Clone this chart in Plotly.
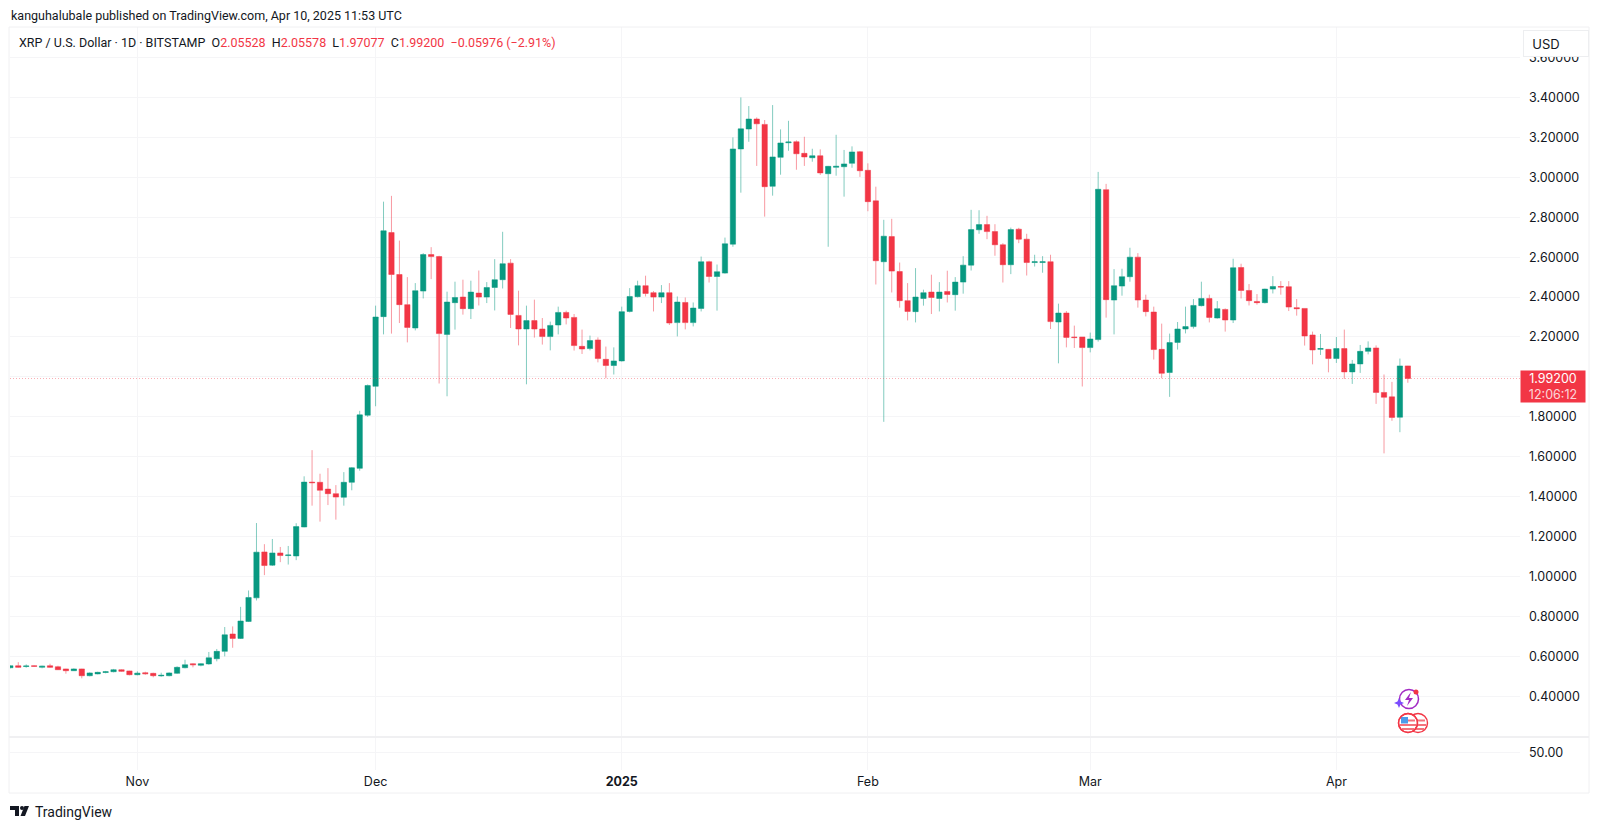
import pandas as pd
import plotly.graph_objects as go

dates = pd.date_range("2024-10-16", periods=177, freq="D").strftime("%Y-%m-%d").tolist()

opens = [.543,.553,.549,.553,.545,.553,.548,.537,.528,.537,.503,.512,.519,.523,.533,.527,.508,.518,.515,.502,
 .503,.515,.543,.563,.555,.562,.588,.625,.712,.69,.775,.893,1.123,1.057,1.118,1.105,1.103,1.248,1.473,1.472,
 1.438,1.415,1.397,1.472,1.542,1.808,1.953,2.302,2.723,2.513,2.362,2.245,2.43,2.613,2.603,2.213,2.372,2.40,2.342,2.42,
 2.40,2.448,2.487,2.57,2.308,2.24,2.282,2.24,2.202,2.26,2.323,2.298,2.153,2.142,2.185,2.088,2.057,2.08,2.328,2.402,
 2.457,2.422,2.40,2.422,2.272,2.373,2.272,2.343,2.577,2.503,2.52,2.665,3.142,3.242,3.292,3.265,2.955,3.10,3.173,3.178,
 3.12,3.098,3.108,3.018,3.05,3.053,3.07,3.128,3.035,2.882,2.577,2.703,2.528,2.382,2.327,2.393,2.425,2.393,2.428,2.412,
 2.475,2.56,2.737,2.763,2.728,2.662,2.562,2.74,2.69,2.573,2.573,2.577,2.275,2.32,2.20,2.20,2.147,2.187,2.938,2.385,
 2.455,2.502,2.60,2.385,2.325,2.138,2.022,2.173,2.24,2.252,2.357,2.393,2.295,2.338,2.285,2.548,2.433,2.378,2.372,2.44,
 2.453,2.452,2.347,2.343,2.21,2.138,2.138,2.092,2.142,2.025,2.065,2.128,2.145,1.922,1.90,1.798,2.05528]

highs = [.555,.571,.560,.555,.553,.563,.553,.538,.54,.538,.52,.523,.527,.537,.535,.528,.525,.523,.518,.518,
 .52,.55,.583,.565,.565,.622,.637,.747,.75,.848,.93,1.268,1.162,1.188,1.148,1.153,1.267,1.502,1.633,1.515,
 1.543,1.458,1.523,1.548,1.83,1.962,2.357,2.878,2.907,2.683,2.5,2.47,2.62,2.65,2.607,2.427,2.477,2.487,2.482,2.533,
 2.475,2.59,2.727,2.59,2.432,2.357,2.387,2.295,2.277,2.352,2.332,2.315,2.237,2.207,2.198,2.152,2.148,2.352,2.445,2.482,
 2.507,2.43,2.46,2.47,2.403,2.398,2.373,2.603,2.582,2.563,2.698,3.2,3.4,3.357,3.30,3.287,3.362,3.24,3.283,3.185,
 3.203,3.143,3.14,3.057,3.213,3.137,3.155,3.132,3.07,2.953,2.787,2.792,2.573,2.47,2.545,2.437,2.512,2.475,2.532,2.50,
 2.605,2.837,2.835,2.807,2.765,2.67,2.748,2.747,2.717,2.612,2.605,2.612,2.367,2.33,2.257,2.20,2.222,3.027,2.967,2.54,
 2.542,2.647,2.62,2.412,2.352,2.267,2.217,2.275,2.352,2.39,2.477,2.412,2.38,2.343,2.592,2.567,2.465,2.415,2.442,2.505,
 2.48,2.48,2.39,2.343,2.227,2.215,2.14,2.20,2.237,2.085,2.16,2.178,2.158,2.012,1.975,2.092,2.05578]

lows = [.54,.543,.543,.548,.540,.543,.532,.513,.527,.490,.50,.51,.515,.52,.523,.505,.505,.508,.495,.498,
 .50,.512,.54,.545,.55,.558,.575,.60,.643,.687,.772,.88,1.007,1.053,1.072,1.06,1.082,1.247,1.355,1.275,
 1.358,1.285,1.355,1.432,1.53,1.80,1.853,2.213,2.217,2.27,2.173,2.233,2.393,2.49,1.967,1.903,2.237,2.312,2.29,2.358,
 2.37,2.333,2.443,2.245,2.158,1.963,2.197,2.162,2.133,2.213,2.263,2.132,2.115,2.133,2.073,1.993,2.012,2.077,2.323,2.398,
 2.403,2.328,2.37,2.26,2.203,2.238,2.253,2.328,2.473,2.332,2.517,2.652,2.923,3.178,3.057,2.803,2.908,3.013,3.133,3.038,
 3.057,3.078,3.012,2.652,3.008,2.903,3.048,3.002,2.83,2.463,1.775,2.423,2.347,2.283,2.273,2.357,2.315,2.328,2.373,2.332,
 2.417,2.533,2.717,2.69,2.607,2.473,2.515,2.67,2.508,2.553,2.522,2.24,2.068,2.148,2.145,1.952,2.123,2.177,2.297,2.213,
 2.407,2.477,2.347,2.303,2.087,1.993,1.90,2.137,2.218,2.242,2.353,2.273,2.292,2.227,2.27,2.393,2.358,2.362,2.368,2.418,
 2.412,2.33,2.307,2.157,2.063,2.11,2.023,2.07,1.99,1.965,2.02,2.113,1.865,1.617,1.78,1.723,1.97077]

closes = [.553,.545,.552,.550,.551,.545,.533,.528,.537,.503,.517,.520,.523,.533,.525,.508,.516,.513,.503,.505,
 .517,.545,.558,.558,.563,.593,.625,.708,.69,.777,.895,1.122,1.055,1.118,1.105,1.108,1.25,1.473,1.47,1.432,
 1.415,1.398,1.472,1.545,1.81,1.957,2.30,2.732,2.513,2.362,2.248,2.432,2.613,2.603,2.217,2.375,2.398,2.342,2.425,2.40,
 2.448,2.487,2.567,2.313,2.24,2.282,2.24,2.202,2.258,2.323,2.295,2.157,2.14,2.182,2.092,2.057,2.08,2.327,2.403,2.457,
 2.418,2.40,2.422,2.27,2.375,2.272,2.345,2.577,2.503,2.527,2.667,3.142,3.243,3.292,3.268,2.953,3.102,3.172,3.177,3.118,
 3.102,3.108,3.022,3.055,3.055,3.067,3.127,3.033,2.878,2.582,2.705,2.53,2.382,2.328,2.40,2.422,2.398,2.425,2.413,2.475,
 2.56,2.738,2.763,2.728,2.662,2.562,2.738,2.69,2.573,2.577,2.577,2.277,2.32,2.198,2.197,2.147,2.19,2.94,2.387,2.457,
 2.502,2.60,2.385,2.327,2.137,2.018,2.172,2.24,2.252,2.358,2.393,2.298,2.342,2.285,2.547,2.433,2.382,2.372,2.44,2.453,
 2.45,2.35,2.342,2.205,2.135,2.142,2.092,2.142,2.025,2.065,2.128,2.145,1.922,1.898,1.797,2.055,1.992]

price_ticks = [0.4,0.6,0.8,1.0,1.2,1.4,1.6,1.8,2.0,2.2,2.4,2.6,2.8,3.0,3.2,3.4,3.6]
# The 2.00000 label sits behind the last-price box in the reference, so only its gridline shows.
price_labels = ["" if v == 2.0 else "%.5f" % v for v in price_ticks]
month_ticks = ["2024-11-01","2024-12-01","2025-01-01","2025-02-01","2025-03-01","2025-04-01"]
month_labels = ["Nov","Dec","<b>2025</b>","Feb","Mar","Apr"]
last_price = 1.992
pane_value = [50]

W, H = 1600, 828
L, R, T, B = 10, 1520, 27, 770
SEP = 737
FONT = "Inter"
TEXT_FONT = "Roboto"
INK = "#131722"
GREEN = "#089981"
RED = "#F23645"
GRID = "#F5F5F7"
BORDER = "#F0F0F2"

def fx(px):
    return (px - L) / (R - L)

def fy(px):
    return (B - px) / (B - T)

fig = go.Figure()
fig.add_trace(go.Candlestick(
    x=dates, open=opens, high=highs, low=lows, close=closes,
    xaxis="x", yaxis="y",
    increasing=dict(line=dict(color="rgba(8,153,129,0.5)", width=1), fillcolor=GREEN),
    decreasing=dict(line=dict(color="rgba(242,54,69,0.5)", width=1), fillcolor=RED),
    whiskerwidth=0, hoverinfo="skip", showlegend=False,
))
fig.add_trace(go.Scatter(x=dates[-1:], y=pane_value, xaxis="x", yaxis="y2", mode="markers",
                         marker=dict(opacity=0, size=1), hoverinfo="skip", showlegend=False))

def rect(x0, y0, x1, y1, **kw):
    return dict(type="rect", xref="paper", yref="paper", x0=fx(x0), x1=fx(x1), y0=fy(y0), y1=fy(y1), **kw)

def circle(cx, cy, r, **kw):
    return dict(type="circle", xref="paper", yref="paper", x0=fx(cx - r), x1=fx(cx + r), y0=fy(cy - r), y1=fy(cy + r), **kw)

def poly(points, **kw):
    d = "M " + " L ".join(f"{fx(a):.5f},{fy(b):.5f}" for a, b in points) + " Z"
    return dict(type="path", xref="paper", yref="paper", path=d, **kw)

def flag(cx, cy):
    r = 9.5
    out = [circle(cx, cy, r, fillcolor="white", line=dict(color=RED, width=1.4))]
    for dy, hw in ((-3.5, 7), (1, 8), (5, 6)):
        out.append(rect(cx - hw, cy + dy, cx + hw, cy + dy + 2, fillcolor="#F4717C", line=dict(width=0)))
    return out

shapes = [
    rect(9, 27, 1589, 793, line=dict(color=BORDER, width=1), fillcolor="rgba(0,0,0,0)"),
    rect(9, SEP - 1, 1589, SEP + 1, line=dict(width=0), fillcolor=BORDER),
    dict(type="line", xref="paper", yref="y", x0=0, x1=1, y0=last_price, y1=last_price,
         line=dict(color="rgba(242,54,69,0.4)", width=1, dash="1px,2px")),
    circle(1409, 699, 9.5, line=dict(color="#A32BC4", width=1.5), fillcolor="white"),
    poly([(1411, 692), (1405, 700), (1409, 700), (1407, 706), (1413, 698), (1409, 698)],
         fillcolor="#A32BC4", line=dict(width=0)),
    poly([(1399, 698), (1400.5, 701.5), (1404, 703), (1400.5, 704.5), (1399, 708), (1397.5, 704.5), (1394, 703), (1397.5, 701.5)],
         fillcolor="#7B4DFF", line=dict(width=0)),
    circle(1416, 692, 2.5, fillcolor=RED, line=dict(width=0)),
]
shapes += flag(1418, 723)
shapes += flag(1408, 723)
shapes += [
    rect(1401, 717, 1408, 723.5, fillcolor="#4C9BEA", line=dict(width=0)),
    circle(1408, 723, 9.5, fillcolor="rgba(0,0,0,0)", line=dict(color=RED, width=1.4)),
]
shapes += [
    poly([(10, 806), (19, 806), (19, 816), (15, 816), (15, 810), (10, 810)], fillcolor=INK, line=dict(width=0)),
    circle(22, 808, 2, fillcolor=INK, line=dict(width=0)),
    poly([(24.5, 806), (29, 806), (25, 816), (20.5, 816)], fillcolor=INK, line=dict(width=0)),
]

def note(text, x, y, size=12.5, color=INK, anchor="left", yanchor="middle", family=TEXT_FONT, **kw):
    return dict(text=text, xref="paper", yref="paper", x=fx(x), y=fy(y), xanchor=anchor, yanchor=yanchor,
                showarrow=False, align=anchor, font=dict(family=family, size=size, color=color), **kw)

def red(t):
    return f'<span style="color:{RED}">{t}</span>'

GAP = "\u00a0\u00a0"
header = ("XRP / U.S. Dollar · 1D · BITSTAMP" + GAP + "O" + red("2.05528") + GAP + "H" + red("2.05578") + GAP + "L"
          + red("1.97077") + GAP + "C" + red("1.99200") + GAP + red("−0.05976 (−2.91%)"))

annotations = [
    note("kanguhalubale published on TradingView.com, Apr 10, 2025 11:53 UTC", 9, 15.5),
    note(header, 17, 42),
    dict(text="\u00a0\u00a0USD", xref="paper", yref="paper", x=fx(1523), y=fy(30), xanchor="left", yanchor="top",
         width=62, height=23, showarrow=False, align="left", bgcolor="white", bordercolor="#EDEEF0",
         borderwidth=1, borderpad=1, font=dict(family=FONT, size=13, color=INK)),
    dict(text=f'{last_price:.5f}<br><span style="color:rgba(255,255,255,0.8)">12:06:12</span>',
         xref="paper", yref="paper", x=fx(1520), y=fy(370), xanchor="left",
         yanchor="top", width=62, height=29, showarrow=False, bgcolor=RED, align="center", borderpad=1,
         font=dict(family=FONT, size=12.5, color="white")),
    note("TradingView", 33, 812, size=14),
]

fig.update_layout(
    width=W, height=H, autosize=False,
    margin=dict(l=L, r=W - R, t=T, b=H - B, pad=0),
    paper_bgcolor="white", plot_bgcolor="white",
    showlegend=False, dragmode=False, hovermode=False,
    boxgap=0.33, boxgroupgap=0,
    font=dict(family=FONT, size=13, color=INK),
    xaxis=dict(type="date", domain=[0, 1], anchor="y2",
               range=["2024-10-15 23:00", "2025-04-24 03:00"],
               tickvals=month_ticks, ticktext=month_labels, ticks="", ticklabelstandoff=2,
               showgrid=True, gridcolor=GRID, gridwidth=1, zeroline=False, showline=False,
               rangeslider=dict(visible=False), tickfont=dict(family=FONT, size=12.5, color=INK), tickangle=0),
    yaxis=dict(domain=[fy(SEP), 1], anchor="x", side="right", range=[0.196, 3.753],
               tickvals=price_ticks, ticktext=price_labels, ticks="", ticklabelstandoff=8,
               showgrid=True, gridcolor=GRID, gridwidth=1, zeroline=False, showline=False,
               tickfont=dict(family=FONT, size=12.5, color=INK)),
    yaxis2=dict(domain=[0, fy(SEP + 1)], anchor="x", side="right", range=[0, 92],
                tickvals=pane_value, ticktext=["50.00"], ticks="", ticklabelstandoff=8,
                showgrid=True, gridcolor=GRID, gridwidth=1, zeroline=False, showline=False,
                tickfont=dict(family=FONT, size=12.5, color=INK)),
    shapes=shapes, annotations=annotations,
)

fig.write_html("out.html", config=dict(displayModeBar=False, responsive=False),
               post_script="document.body.style.margin='0';document.documentElement.style.overflow='hidden';")
